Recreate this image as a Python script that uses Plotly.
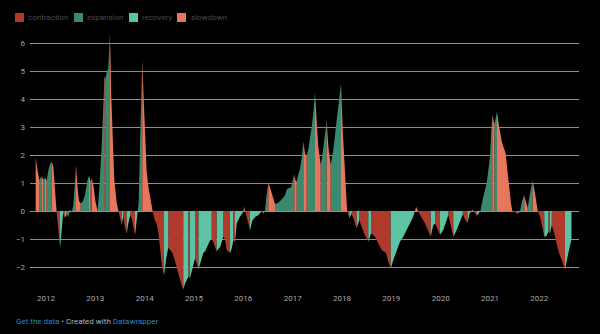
import plotly.graph_objects as go

# Monthly-ish readings of the cycle indicator, positioned in decimal years
period = [
    2011.791, 2011.828, 2011.868, 2011.909, 2011.945, 2011.980, 2012.014, 2012.047,
    2012.081, 2012.116, 2012.148, 2012.182, 2012.217, 2012.249, 2012.284, 2012.318,
    2012.351, 2012.385, 2012.420, 2012.452, 2012.487, 2012.521, 2012.553, 2012.582,
    2012.608, 2012.639, 2012.669, 2012.703, 2012.744, 2012.791, 2012.837, 2012.872,
    2012.902, 2012.926, 2012.963, 2013.003, 2013.044, 2013.074, 2013.101, 2013.129,
    2013.149, 2013.166, 2013.186, 2013.206, 2013.231, 2013.263, 2013.297, 2013.322,
    2013.344, 2013.385, 2013.433, 2013.470, 2013.500, 2013.535, 2013.567, 2013.601,
    2013.636, 2013.668, 2013.709, 2013.743, 2013.778, 2013.804, 2013.831, 2013.855,
    2013.879, 2013.906, 2013.930, 2013.952, 2013.981, 2014.007, 2014.041, 2014.078,
    2014.114, 2014.159, 2014.200, 2014.244, 2014.277, 2014.311, 2014.352, 2014.392,
    2014.437, 2014.479, 2014.514, 2014.548, 2014.595, 2014.650, 2014.696, 2014.741,
    2014.783, 2014.818, 2014.858, 2014.885, 2014.919, 2014.954, 2014.986, 2015.021,
    2015.061, 2015.092, 2015.122, 2015.156, 2015.189, 2015.223, 2015.258, 2015.290,
    2015.325, 2015.359, 2015.392, 2015.426, 2015.460, 2015.493, 2015.527, 2015.562,
    2015.594, 2015.629, 2015.663, 2015.696, 2015.730, 2015.765, 2015.797, 2015.831,
    2015.866, 2015.898, 2015.933, 2015.979, 2016.020, 2016.069, 2016.105, 2016.136,
    2016.182, 2016.217, 2016.251, 2016.304, 2016.338, 2016.373, 2016.405, 2016.440,
    2016.474, 2016.507, 2016.541, 2016.575, 2016.608, 2016.642, 2016.677, 2016.709,
    2016.744, 2016.778, 2016.811, 2016.845, 2016.875, 2016.900, 2016.936, 2016.967,
    2017.001, 2017.034, 2017.058, 2017.082, 2017.115, 2017.149, 2017.184, 2017.216,
    2017.250, 2017.285, 2017.317, 2017.352, 2017.386, 2017.419, 2017.453, 2017.488,
    2017.520, 2017.569, 2017.609, 2017.656, 2017.690, 2017.723, 2017.771, 2017.824,
    2017.859, 2017.893, 2017.946, 2017.980, 2018.015, 2018.061, 2018.102, 2018.149,
    2018.197, 2018.244, 2018.299, 2018.351, 2018.386, 2018.420, 2018.461, 2018.501,
    2018.534, 2018.588, 2018.629, 2018.670, 2018.736, 2018.805, 2018.852, 2018.893,
    2018.939, 2018.988, 2019.041, 2019.109, 2019.176, 2019.243, 2019.312, 2019.379,
    2019.446, 2019.501, 2019.547, 2019.596, 2019.643, 2019.683, 2019.750, 2019.799,
    2019.851, 2019.886, 2019.926, 2019.987, 2020.054, 2020.109, 2020.155, 2020.210,
    2020.257, 2020.326, 2020.393, 2020.449, 2020.494, 2020.545, 2020.585, 2020.642,
    2020.687, 2020.731, 2020.764, 2020.808, 2020.865, 2020.934, 2020.970, 2021.001,
    2021.025, 2021.047, 2021.088, 2021.116, 2021.143, 2021.173, 2021.204, 2021.238,
    2021.270, 2021.319, 2021.345, 2021.372, 2021.406, 2021.427, 2021.453, 2021.508,
    2021.562, 2021.609, 2021.656, 2021.696, 2021.731, 2021.765, 2021.812, 2021.866,
    2021.913, 2021.968, 2022.014, 2022.061, 2022.102, 2022.142, 2022.183, 2022.217,
    2022.252, 2022.304, 2022.353, 2022.400, 2022.454, 2022.487, 2022.521, 2022.588,
    2022.653,
]

index_value = [
    1.92, 1.45, 1.10, 1.25, 1.12, 1.20, 1.08, 1.45,
    1.68, 1.76, 1.60, 0.60, -0.05, -0.60, -1.32, -0.70,
    -0.10, -0.25, -0.12, -0.22, 0.05, -0.05, 0.20, 0.90,
    1.64, 0.85, 0.35, 0.28, 0.33, 0.57, 1.06, 1.27,
    1.05, 1.18, 0.90, 0.35, 0.02, 0.60, 1.30, 2.30,
    3.20, 4.40, 4.80, 4.72, 4.95, 5.10, 6.35, 4.20,
    2.90, 1.10, 0.30, -0.02, -0.32, -0.50, -0.20, -0.60,
    -0.82, -0.45, -0.15, -0.30, -0.60, -0.87, -0.45, -0.10,
    0.30, 2.40, 4.30, 5.42, 4.00, 2.90, 1.40, 0.85,
    0.45, 0.02, -0.30, -0.45, -0.75, -1.30, -2.00, -2.30,
    -1.70, -1.30, -1.40, -1.45, -1.65, -2.05, -2.30, -2.60,
    -2.80, -2.60, -2.45, -2.35, -2.40, -2.15, -1.95, -1.70,
    -1.90, -2.10, -1.90, -1.70, -1.50, -1.45, -1.30, -1.15,
    -1.05, -1.00, -1.12, -1.30, -1.45, -1.35, -1.30, -1.10,
    -0.92, -1.00, -1.40, -1.45, -1.50, -1.35, -1.05, -1.10,
    -0.45, -0.30, -0.20, -0.10, 0.15, -0.20, -0.50, -0.70,
    -0.35, -0.28, -0.20, -0.15, -0.08, -0.02, -0.10, 0.02,
    0.60, 1.00, 0.85, 0.65, 0.45, 0.25, 0.27, 0.30,
    0.35, 0.42, 0.50, 0.55, 0.75, 0.80, 0.82, 0.85,
    1.10, 1.30, 1.10, 1.05, 1.30, 1.50, 1.90, 2.48,
    2.05, 1.95, 2.20, 2.55, 3.00, 3.50, 4.22, 3.20,
    2.30, 1.64, 2.06, 2.77, 3.25, 2.30, 1.64, 2.18,
    2.70, 3.13, 3.96, 4.56, 2.90, 1.10, 0.05, -0.26,
    -0.10, -0.32, -0.62, -0.32, -0.50, -0.70, -0.85, -0.98,
    -1.10, -0.80, -0.85, -0.92, -1.15, -1.39, -1.45, -1.50,
    -1.80, -2.05, -1.75, -1.39, -1.10, -0.92, -0.68, -0.44,
    -0.20, 0.15, -0.02, -0.20, -0.32, -0.44, -0.74, -0.92,
    -0.50, -0.45, -0.60, -0.85, -0.68, -0.40, -0.15, -0.55,
    -0.92, -0.68, -0.40, -0.12, -0.30, -0.44, -0.10, 0.05,
    -0.05, -0.17, -0.10, 0.02, 0.51, 0.99, 1.50, 1.94,
    2.80, 3.43, 3.10, 3.30, 3.55, 3.15, 2.77, 2.50,
    2.30, 2.06, 1.60, 1.10, 0.55, 0.27, 0.00, -0.05,
    -0.10, 0.00, 0.39, 0.57, 0.30, 0.12, 0.63, 1.10,
    0.63, 0.00, -0.20, -0.56, -0.92, -0.90, -0.74, -0.80,
    -0.50, -0.80, -1.15, -1.51, -1.75, -1.95, -2.10, -1.51,
    -1.00,
]

phases = ["contraction", "expansion", "recovery", "slowdown"]
phase_colours = {
    "contraction": "#b0392b",
    "expansion": "#3b8a6f",
    "recovery": "#5cc4a5",
    "slowdown": "#e8765d",
}

year_ticks = list(range(2012, 2023))
year_labels = [str(y) for y in year_ticks]
value_ticks = [-2, -1, 0, 1, 2, 3, 4, 5, 6]
value_labels = [str(v).replace("-", "\u2212") for v in value_ticks]


def phase_of(y0, y1):
    above = (y0 + y1) / 2 >= 0
    if above:
        return "expansion" if y1 > y0 else "slowdown"
    return "recovery" if y1 > y0 else "contraction"


# Split each step at zero crossings so every piece stays on one side of the axis
pieces = []
for i in range(len(period) - 1):
    x0, y0 = period[i], index_value[i]
    x1, y1 = period[i + 1], index_value[i + 1]
    if y0 * y1 < 0:
        xc = x0 + (x1 - x0) * (y0 / (y0 - y1))
        pieces.append((x0, y0, xc, 0.0))
        pieces.append((xc, 0.0, x1, y1))
    else:
        pieces.append((x0, y0, x1, y1))

# Group consecutive pieces of the same phase into closed areas down to zero
shapes_by_phase = {p: ([], []) for p in phases}
run = []
run_phase = None


def flush(run, ph):
    if not run:
        return
    xs, ys = shapes_by_phase[ph]
    xs += [run[0][0], run[0][0]] + [p[2] for p in run] + [run[-1][2], None]
    ys += [0.0, run[0][1]] + [p[3] for p in run] + [0.0, None]


for pc in pieces:
    ph = phase_of(pc[1], pc[3])
    if ph != run_phase:
        flush(run, run_phase)
        run, run_phase = [], ph
    run.append(pc)
flush(run, run_phase)

fig = go.Figure()
for ph in phases:
    xs, ys = shapes_by_phase[ph]
    fig.add_trace(go.Scatter(
        x=xs, y=ys, mode="lines", fill="toself",
        fillcolor=phase_colours[ph], line=dict(width=0, color=phase_colours[ph]),
        name=ph, showlegend=False, hoverinfo="skip",
    ))

W, H = 600, 334
ML, MR, MT, MB = 30, 21, 29, 42
plot_w, plot_h = W - ML - MR, H - MT - MB


def px_x(px):
    return (px - ML) / plot_w


def px_y(py):
    return (H - MB - py) / plot_h


# Legend drawn as swatches and labels above the chart
legend_swatch_x = [15, 74, 129, 177]
legend_text_x = [26, 85, 140, 189]
shapes = []
annotations = []
for ph, sx, tx in zip(phases, legend_swatch_x, legend_text_x):
    shapes.append(dict(
        type="rect", xref="paper", yref="paper",
        x0=px_x(sx), x1=px_x(sx + 9), y0=px_y(22), y1=px_y(13),
        fillcolor=phase_colours[ph], line=dict(width=0), layer="above",
    ))
    annotations.append(dict(
        text=ph, xref="paper", yref="paper", x=px_x(tx), y=px_y(17.5),
        xanchor="left", yanchor="middle", showarrow=False,
        font=dict(family="Roboto", size=8, color="#4a4a4a"),
    ))

annotations.append(dict(
    text=("<span style='color:#2f86c0'>Get the data</span>"
          " \u2022 Created with "
          "<span style='color:#2f86c0'>Datawrapper</span>"),
    xref="paper", yref="paper", x=px_x(14), y=px_y(321.5),
    xanchor="left", yanchor="middle", showarrow=False,
    font=dict(family="Roboto", size=8, color="#b5b5b5"),
))

fig.update_layout(
    width=W, height=H,
    margin=dict(l=ML, r=MR, t=MT, b=MB),
    paper_bgcolor="#000000", plot_bgcolor="#000000",
    showlegend=False,
    shapes=shapes, annotations=annotations,
    xaxis=dict(
        range=[2011.676, 2022.805], tickmode="array",
        tickvals=year_ticks, ticktext=year_labels,
        showgrid=False, zeroline=False, showline=False, ticks="",
        tickfont=dict(family="Roboto", size=8, color="#a8a8a8"),
        fixedrange=True,
    ),
    yaxis=dict(
        range=[6.5 - plot_h / 28.0, 6.5], tickmode="array",
        tickvals=value_ticks, ticktext=value_labels,
        showgrid=True, gridcolor="#8e8e8e", gridwidth=1,
        zeroline=True, zerolinecolor="#8e8e8e", zerolinewidth=1,
        showline=False, ticks="", ticklabelstandoff=4,
        tickfont=dict(family="Roboto", size=8, color="#a8a8a8"),
        layer="below traces", fixedrange=True,
    ),
)

fig.write_html("out.html")
